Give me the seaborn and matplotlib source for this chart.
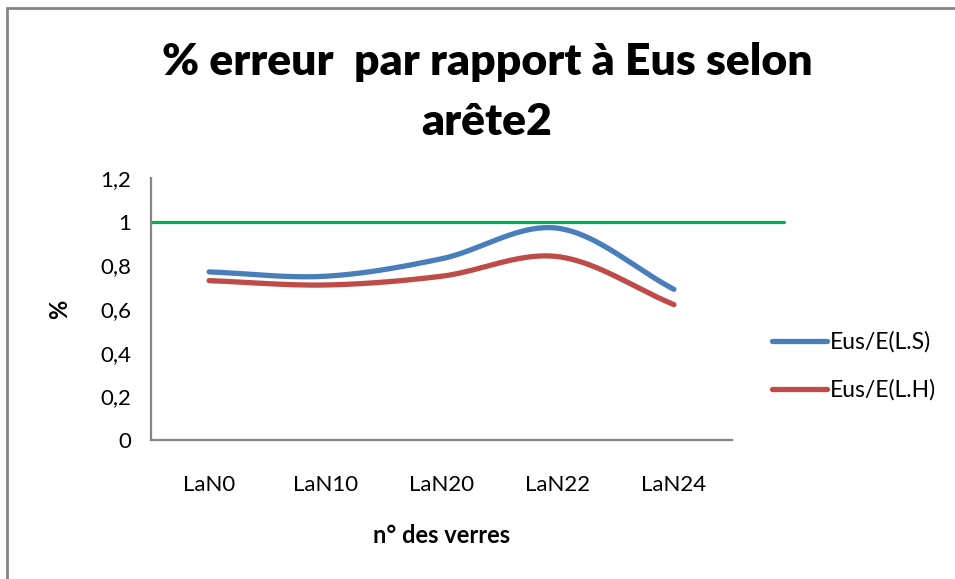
import numpy as np
import pandas as pd
import matplotlib
matplotlib.use("Agg")
import matplotlib.pyplot as plt
from matplotlib.patches import Rectangle
from matplotlib.ticker import FuncFormatter
import seaborn as sns

# Data
categories = ["LaN0", "LaN10", "LaN20", "LaN22", "LaN24"]
ls_values = [0.77, 0.75, 0.83, 0.97, 0.69]   # Eus/E(L.S)
lh_values = [0.73, 0.71, 0.75, 0.84, 0.62]   # Eus/E(L.H)
reference_level = 1.0
series_names = ["Eus/E(L.S)", "Eus/E(L.H)"]
y_ticks = [0, 0.2, 0.4, 0.6, 0.8, 1.0, 1.2]

sns.set_theme(style="white")
plt.rcParams["font.family"] = ["Lato", "DejaVu Sans"]
plt.rcParams["text.color"] = "black"
plt.rcParams["axes.labelcolor"] = "black"

W, H = 955, 579
fig = plt.figure(figsize=(W / 100, H / 100), dpi=100)
fig.patch.set_facecolor("white")

# Outer chart frame (left and top edges visible)
fig.add_artist(Rectangle((6.5 / W, -0.05), 1.2, 1 - 7.5 / H + 0.05,
                         transform=fig.transFigure, fill=False,
                         edgecolor="#868686", linewidth=2.0))

ax = fig.add_axes([151 / W, (H - 440) / H, (732 - 151) / W, (440 - 178) / H])


def smooth(xs, ys, n=40):
    """Catmull-Rom curve through the points, like a smoothed line chart."""
    xs = np.asarray(xs, float)
    ys = np.asarray(ys, float)
    px = np.concatenate([[2 * xs[0] - xs[1]], xs, [2 * xs[-1] - xs[-2]]])
    py = np.concatenate([[2 * ys[0] - ys[1]], ys, [2 * ys[-1] - ys[-2]]])
    out_x, out_y = [], []
    for i in range(1, len(px) - 2):
        t = np.linspace(0, 1, n, endpoint=(i == len(px) - 3))
        for p, out in ((px, out_x), (py, out_y)):
            p0, p1, p2, p3 = p[i - 1], p[i], p[i + 1], p[i + 2]
            out.extend(0.5 * ((2 * p1) + (-p0 + p2) * t
                              + (2 * p0 - 5 * p1 + 4 * p2 - p3) * t ** 2
                              + (-p0 + 3 * p1 - 3 * p2 + p3) * t ** 3))
    return np.array(out_x), np.array(out_y)


positions = np.arange(len(categories))
frames = []
for name, vals in zip(series_names, [ls_values, lh_values]):
    sx, sy = smooth(positions, vals)
    frames.append(pd.DataFrame({"x": sx, "y": sy, "serie": name}))
df = pd.concat(frames, ignore_index=True)

palette = {"Eus/E(L.S)": "#4A7EBB", "Eus/E(L.H)": "#BE4B48"}
sns.lineplot(data=df, x="x", y="y", hue="serie", palette=palette,
             linewidth=3.8, sort=False, estimator=None, ax=ax,
             solid_capstyle="round")

# Reference level at 1
ax.plot([-0.5, 4.95], [reference_level, reference_level], color="#00B050",
        linewidth=2.3, clip_on=False, zorder=1)

ax.set_xlim(-0.5, len(categories) - 0.5)
ax.set_ylim(0, 1.2)
ax.set_xticks(positions)
ax.set_xticklabels(categories)
ax.set_yticks(y_ticks)
ax.yaxis.set_major_formatter(FuncFormatter(
    lambda v, _: ("%g" % round(v, 1)).replace(".", ",")))
ax.tick_params(axis="both", length=0, labelsize=16, colors="black")
ax.tick_params(axis="x", pad=25)
ax.tick_params(axis="y", pad=14)

for side in ["top", "right"]:
    ax.spines[side].set_visible(False)
for side in ["left", "bottom"]:
    ax.spines[side].set_color("#868686")
    ax.spines[side].set_linewidth(1.6)

ax.set_xlabel("n° des verres", fontsize=17, fontweight="bold", labelpad=21,
              color="black")
ax.set_ylabel("%", fontsize=17, fontweight="bold", labelpad=21,
              color="black")

handles, labels = ax.get_legend_handles_labels()
leg = ax.legend(handles, labels, loc="center left",
                bbox_to_anchor=(756 / W, (H - 366) / H),
                bbox_transform=fig.transFigure, frameon=False,
                fontsize=16.5, handlelength=2.4, handletextpad=0.13,
                labelspacing=1.15, borderpad=0.2)
for line in leg.get_lines():
    line.set_linewidth(3.8)
for txt in leg.get_texts():
    txt.set_color("black")

fig.text(487 / W, (H - 62) / H, "% erreur  par rapport à Eus selon",
         ha="center", va="center", fontsize=32, fontweight="heavy",
         color="black")
fig.text(487 / W, (H - 122) / H, "arête2",
         ha="center", va="center", fontsize=32, fontweight="heavy",
         color="black")

fig.savefig("out.png", dpi=100, facecolor="white")
